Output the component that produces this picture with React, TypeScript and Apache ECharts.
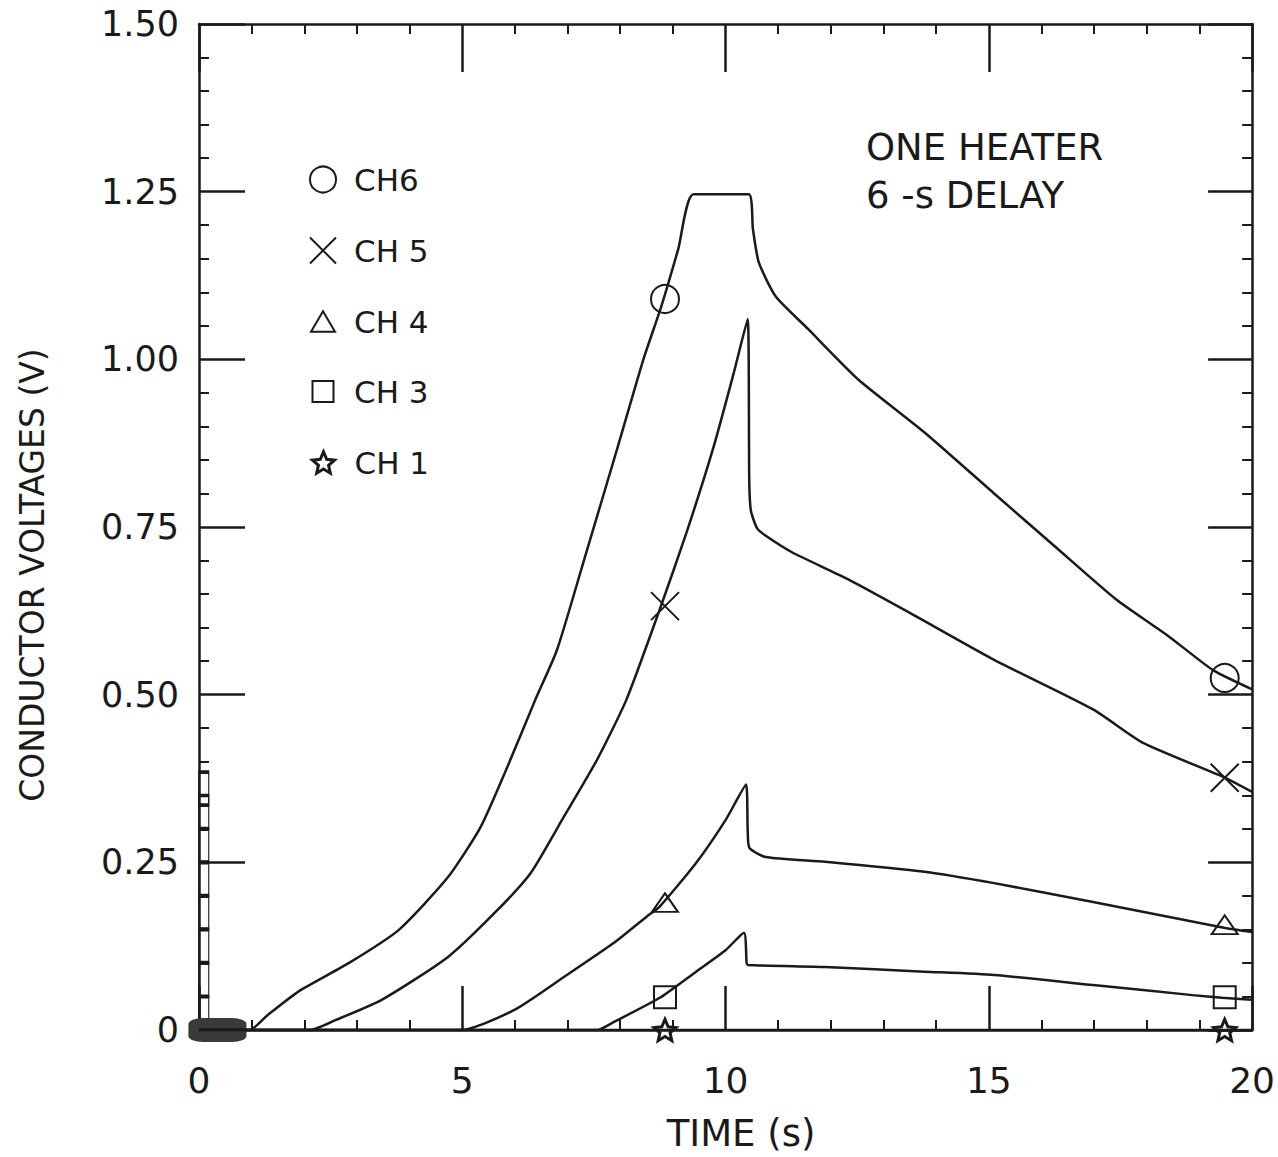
import React, { useEffect, useRef } from "react";
import * as echarts from "echarts";

const FONT = "DejaVu Sans";
const INK = "#1a1a1a";

// time axis ticks and voltage axis ticks
const xTickValues = [0, 5, 10, 15, 20];
const yTickLabels = ["0", "0.25", "0.50", "0.75", "1.00", "1.25", "1.50"];

const channelNames = ["CH6", "CH 5", "CH 4", "CH 3", "CH 1"];

// [time (s), voltage (V)]
const ch6: number[][] = [
  [0, 0], [0.96, 0.0], [1.3, 0.022], [1.9, 0.058], [2.85, 0.1], [3.79, 0.149],
  [4.73, 0.228], [5.35, 0.303], [5.86, 0.393], [6.39, 0.493], [6.8, 0.567],
  [7.37, 0.716], [7.94, 0.866], [8.44, 1.0], [8.78, 1.079], [9.1, 1.164],
  [9.39, 1.246], [10.44, 1.246], [10.52, 1.194], [10.63, 1.145], [10.95, 1.094],
  [11.57, 1.045], [12.52, 0.97], [13.78, 0.891], [15.1, 0.8], [16.3, 0.718],
  [17.42, 0.642], [18.4, 0.588], [19.25, 0.537], [20, 0.508],
];
const ch5: number[][] = [
  [0, 0], [2.1, 0.0], [2.6, 0.015], [3.47, 0.045], [4.73, 0.109], [5.67, 0.179],
  [6.3, 0.234], [6.93, 0.318], [7.56, 0.403], [8.12, 0.493], [8.75, 0.627],
  [9.26, 0.742], [9.76, 0.866], [10.14, 0.975], [10.42, 1.06], [10.45, 0.82],
  [10.48, 0.775], [10.6, 0.748], [10.8, 0.735], [11.27, 0.712], [12.33, 0.672],
  [13.5, 0.622], [15.1, 0.552], [16.98, 0.478], [17.93, 0.428], [19.49, 0.376],
  [20, 0.355],
];
const ch4: number[][] = [
  [0, 0], [4.98, 0.0], [5.99, 0.03], [6.93, 0.079], [7.88, 0.13], [8.5, 0.169],
  [8.75, 0.184], [9.44, 0.249], [10.0, 0.313], [10.39, 0.366], [10.42, 0.3],
  [10.45, 0.272], [10.76, 0.258], [11.89, 0.251], [13.78, 0.236], [15.1, 0.219],
  [16.98, 0.191], [19.49, 0.152], [20, 0.146],
];
const ch3: number[][] = [
  [0, 0], [7.56, 0.0], [7.88, 0.012], [8.75, 0.048], [9.44, 0.087], [10.0, 0.119],
  [10.35, 0.145], [10.4, 0.1], [10.42, 0.097], [11.89, 0.094], [13.78, 0.087],
  [15.1, 0.082], [16.98, 0.067], [18.87, 0.052], [19.43, 0.048], [20, 0.045],
];
const ch1: number[][] = [
  [0, 0], [20, 0],
];

// marker positions along each trace
const markerTimes = [8.85, 19.48];
const ch6Marks = [1.09, 0.525];
const ch5Marks = [0.632, 0.376];
const ch4Marks = [0.19, 0.157];
const ch3Marks = [0.049, 0.049];
const ch1Marks = [0.0, 0.0];

// overplotted squares stacked at t≈0 and dark blob at origin
const ladderTime = 0.09;
const ladderValues = [0.025, 0.075, 0.125, 0.175, 0.225, 0.275, 0.325, 0.36];
const blobPoints: number[][] = [[0.35, 0.0]];

const CROSS = "path://M0,0L20,20M20,0L0,20";
const STAR =
  "path://M10,0L12.9,6.9L20,7.6L14.6,12.3L16.2,19.5L10,15.7L3.8,19.5L5.4,12.3L0,7.6L7.1,6.9Z";
const TRI = "path://M10,0L20,17L0,17Z";
const SQUARE = "path://M0,0L20,0L20,20L0,20Z";

const traces = [ch6, ch5, ch4, ch3, ch1];
const marks = [ch6Marks, ch5Marks, ch4Marks, ch3Marks, ch1Marks];
const symbols = ["circle", CROSS, TRI, SQUARE, STAR];
const symbolSizes: (number | number[])[] = [28, 28, [26, 22], 22, 22];
const legendSizes = [26, 26, 24, 21, 22];
const borderWidths = [2, 2, 2, 2, 3];

export default function App() {
  const ref = useRef<HTMLDivElement>(null);

  useEffect(() => {
    if (!ref.current) return;
    const chart = echarts.init(ref.current, undefined, { renderer: "svg" });

    const axisCommon = {
      type: "value" as const,
      splitLine: { show: false },
      axisLine: { onZero: false, lineStyle: { color: INK, width: 2.5 } },
      minorTick: { show: true, splitNumber: 5, length: 10, lineStyle: { color: INK, width: 2 } },
    };

    const lineSeries = traces.map((d, i) => ({
      name: channelNames[i],
      type: "line",
      data: d,
      symbol: "none",
      smooth: 0.2,
      lineStyle: { color: INK, width: 2.5 },
      z: 3,
    }));

    const markerSeries = marks.map((m, i) => ({
      name: channelNames[i],
      type: "scatter",
      data: markerTimes.map((t, j) => [t, m[j]]),
      symbol: symbols[i],
      symbolSize: symbolSizes[i],
      symbolKeepAspect: true,
      itemStyle: {
        color: "rgba(0,0,0,0)",
        borderColor: INK,
        borderWidth: borderWidths[i],
        opacity: 1,
      },
      z: 4,
    }));

    const option: any = {
      animation: false,
      backgroundColor: "#ffffff",
      grid: { left: 199, width: 1060, top: 24, bottom: 127, containLabel: false },
      xAxis: [
        {
          ...axisCommon,
          position: "bottom",
          min: xTickValues[0],
          max: xTickValues[xTickValues.length - 1],
          interval: 5,
          axisTick: { inside: true, length: 44, lineStyle: { color: INK, width: 2.5 } },
          axisLabel: { margin: 32, fontSize: 36, fontFamily: FONT, color: INK },
        },
        {
          ...axisCommon,
          position: "top",
          min: xTickValues[0],
          max: xTickValues[xTickValues.length - 1],
          interval: 5,
          axisTick: { inside: true, length: 48, lineStyle: { color: INK, width: 2.5 } },
          axisLabel: { show: false },
        },
      ],
      yAxis: [
        {
          ...axisCommon,
          position: "left",
          min: 0,
          max: 1.5,
          interval: 0.25,
          axisTick: { inside: true, length: 46, lineStyle: { color: INK, width: 2.5 } },
          axisLabel: {
            margin: 20,
            fontSize: 35,
            fontFamily: FONT,
            color: INK,
            formatter: (v: number) => yTickLabels[Math.round(v / 0.25)] ?? "",
          },
        },
        {
          ...axisCommon,
          position: "right",
          min: 0,
          max: 1.5,
          interval: 0.25,
          axisTick: { inside: true, length: 44, lineStyle: { color: INK, width: 2.5 } },
          axisLabel: { show: false },
        },
      ],
      legend: channelNames.map((n, i) => ({
        orient: "vertical",
        padding: 0,
        left: 322 - legendSizes[i] / 2,
        top: Math.round(180 + i * 70.75 - 16),
        itemWidth: legendSizes[i],
        itemHeight: legendSizes[i],
        selectedMode: false,
        symbolKeepAspect: true,
        textStyle: {
          fontFamily: FONT,
          fontSize: 31,
          color: INK,
          padding: [0, 0, 0, 26 - legendSizes[i] / 2],
        },
        data: [
          {
            name: n,
            icon: symbols[i],
            itemStyle: {
              color: "rgba(0,0,0,0)",
              borderColor: INK,
              borderWidth: borderWidths[i],
              opacity: 1,
            },
          },
        ],
      })),
      graphic: [
        {
          type: "text",
          x: 32,
          y: 575,
          rotation: Math.PI / 2,
          style: {
            text: "CONDUCTOR VOLTAGES (V)",
            fontSize: 33,
            fontFamily: FONT,
            fill: INK,
            align: "center",
            verticalAlign: "middle",
          },
        },
        {
          type: "text",
          x: 741,
          y: 1133,
          style: {
            text: "TIME (s)",
            fontSize: 37,
            fontFamily: FONT,
            fill: INK,
            align: "center",
            verticalAlign: "middle",
          },
        },
        {
          type: "text",
          x: 866,
          y: 123,
          style: {
            text: "ONE HEATER\n6 -s DELAY",
            fontSize: 37,
            lineHeight: 48,
            fontFamily: FONT,
            fill: INK,
            align: "left",
            verticalAlign: "top",
          },
        },
      ],
      series: [
        ...lineSeries,
        ...markerSeries,
        {
          name: "ladder",
          type: "scatter",
          data: ladderValues.map((v) => [ladderTime, v]),
          symbol: "rect",
          symbolSize: [10, 33],
          itemStyle: { color: "rgba(0,0,0,0)", borderColor: INK, borderWidth: 2, opacity: 1 },
          z: 2,
        },
        {
          name: "blob",
          type: "scatter",
          data: blobPoints,
          symbol: "roundRect",
          symbolSize: [58, 24],
          itemStyle: { color: "#3a3a3a", opacity: 1 },
          z: 2,
        },
      ],
    };

    chart.setOption(option);
    return () => chart.dispose();
  }, []);

  return (
    <div
      ref={ref}
      style={{ position: "fixed", left: 0, top: 0, width: 1278, height: 1157, background: "#fff" }}
    />
  );
}
